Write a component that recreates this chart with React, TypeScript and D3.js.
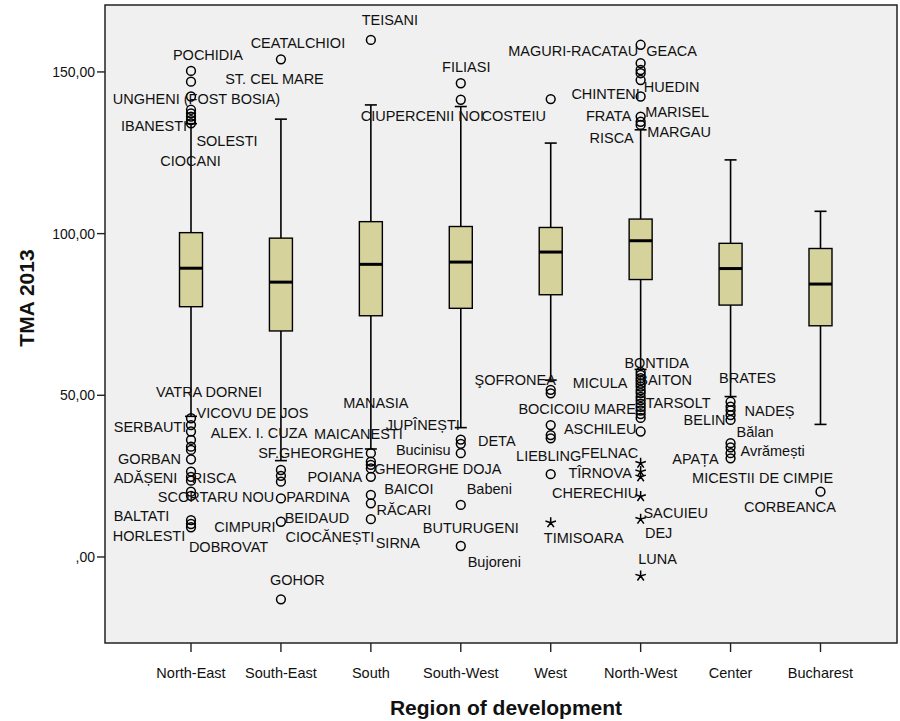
import React, { useEffect } from "react";
import * as d3 from "d3";

// boxplot summary per region (TMA 2013)
const regions = ["North-East", "South-East", "South", "South-West", "West", "North-West", "Center", "Bucharest"];
const q1 = [77.4, 69.9, 74.6, 76.9, 81.1, 85.8, 77.9, 71.5];
const median = [89.3, 85.0, 90.5, 91.2, 94.3, 97.8, 89.2, 84.4];
const q3 = [100.3, 98.6, 103.7, 102.2, 101.9, 104.5, 97.0, 95.4];
const whiskerLow = [43.5, 29.8, 33.4, 40.0, 54.7, 58.0, 49.6, 41.0];
const whiskerHigh = [134, 135.4, 139.8, 139.3, 128.0, 132.1, 122.8, 106.9];

// outliers (circles)
const outNE = [150.3, 147.0, 142.4, 138.3, 137.2, 136.2, 135.1, 134.1, 42.9, 40.8, 38.8, 36.2, 34.1, 33.1, 30.2, 26.4, 24.8, 23.6, 20.2, 18.9, 11.4, 10.2, 9.2];
const outSE = [153.9, 26.9, 25.1, 23.3, 18.1, 10.9, -13.1];
const outS = [159.9, 32.1, 29.5, 28.5, 27.4, 24.8, 19.2, 16.6, 11.7];
const outSW = [146.5, 141.4, 36.3, 35.0, 32.1, 16.1, 3.4];
const outW = [141.6, 51.7, 50.6, 40.8, 37.7, 36.7, 25.6];
const outNW = [158.4, 152.7, 150.6, 149.6, 147.5, 142.4, 136.2, 134.6, 133.6, 57.2, 56.3, 55.3, 54.5, 53.6, 52.7, 51.6, 50.7, 49.5, 48.5, 47.4, 46.4, 45.3, 44.2, 43.0, 38.8];
const outC = [48.0, 46.5, 45.3, 43.9, 42.4, 35.2, 33.9, 32.1, 30.5];
const outB = [20.2];
const outliers = [outNE, outSE, outS, outSW, outW, outNW, outC, outB];

// extremes (asterisks)
const extW = [10.6];
const extNW = [29.0, 26.4, 24.8, 18.7, 11.7, -5.9];
const extremes = [[], [], [], [], extW, extNW, [], []];

const yTicks = [0, 50, 100, 150];

// [name, region, value, dx of text centre from column centre]
const labels: [string, string, number, number][] = [
  ["POCHIDIA", "North-East", 155.3, 17],
  ["ST. CEL MARE", "North-East", 147.8, 83.5],
  ["UNGHENI (FOST BOSIA)", "North-East", 141.7, 5.5],
  ["IBANESTI", "North-East", 133.3, -37],
  ["SOLESTI", "North-East", 128.7, 36],
  ["CIOCANI", "North-East", 122.5, -0.5],
  ["VATRA DORNEI", "North-East", 51.1, 18],
  ["VICOVU DE JOS", "North-East", 44.5, 61.5],
  ["SERBAUTI", "North-East", 40.1, -41],
  ["ALEX. I. CUZA", "North-East", 38.3, 68],
  ["GORBAN", "North-East", 30.2, -41.5],
  ["ADĂȘENI", "North-East", 24.3, -45.5],
  ["RISCA", "North-East", 24.3, 23],
  ["SCORTARU NOU", "North-East", 18.7, 25],
  ["BALTATI", "North-East", 12.7, -49.5],
  ["HORLESTI", "North-East", 6.5, -42],
  ["DOBROVAT", "North-East", 3.2, 37.5],
  ["CEATALCHIOI", "South-East", 159.0, 17],
  ["MAICANESTI", "South-East", 38.0, 77.5],
  ["SF.GHEORGHE", "South-East", 32.2, 30],
  ["PARDINA", "South-East", 18.7, 37],
  ["BEIDAUD", "South-East", 12.2, 36],
  ["CIMPURI", "South-East", 9.4, -36],
  ["CIOCĂNEȘTI", "South-East", 6.3, 49],
  ["GOHOR", "South-East", -7.1, 16.5],
  ["TEISANI", "South", 166.1, 19],
  ["CIUPERCENII NOI", "South", 136.4, 51.5],
  ["MANASIA", "South", 47.7, 5],
  ["GHEORGHE DOJA", "South", 27.1, 67],
  ["POIANA", "South", 24.8, -36],
  ["BAICOI", "South", 20.9, 38],
  ["RĂCARI", "South", 14.5, 33],
  ["SIRNA", "South", 4.2, 27],
  ["FILIASI", "South-West", 151.6, 5.5],
  ["JUPÎNEȘTI", "South-West", 40.8, -38],
  ["DETA", "South-West", 35.9, 36],
  ["Bucinisu", "South-West", 33.1, -37.5],
  ["Babeni", "South-West", 21.0, 28.5],
  ["BUTURUGENI", "South-West", 9.0, 10],
  ["Bujoreni", "South-West", -1.5, 33.5],
  ["COSTEIU", "West", 136.4, -37],
  ["ŞOFRONEA", "West", 54.7, -35.5],
  ["BOCICOIU MARE", "West", 45.7, 26.5],
  ["ASCHILEU", "West", 39.5, 49.5],
  ["LIEBLING", "West", 31.2, -2],
  ["TIMISOARA", "West", 5.8, 33],
  ["MAGURI-RACATAU", "North-West", 156.6, -67.5],
  ["GEACA", "North-West", 156.6, 31],
  ["HUEDIN", "North-West", 145.3, 31],
  ["CHINTENI", "North-West", 143.2, -35],
  ["MARISEL", "North-West", 137.7, 36.5],
  ["FRATA", "North-West", 136.4, -32],
  ["MARGAU", "North-West", 131.5, 38.5],
  ["RISCA", "North-West", 129.5, -29],
  ["BONTIDA", "North-West", 60.1, 16],
  ["BAITON", "North-West", 54.8, 24.5],
  ["MICULA", "North-West", 53.9, -40.5],
  ["TARSOLT", "North-West", 47.5, 37.5],
  ["FELNAC", "North-West", 32.1, -31],
  ["TÎRNOVA", "North-West", 25.9, -40.5],
  ["CHERECHIU", "North-West", 19.9, -45.5],
  ["SACUIEU", "North-West", 13.7, 35],
  ["DEJ", "North-West", 7.3, 18],
  ["LUNA", "North-West", -0.7, 17],
  ["BRATES", "Center", 55.3, 17],
  ["NADEȘ", "Center", 45.3, 39],
  ["BELIN", "Center", 42.4, -26],
  ["Bălan", "Center", 38.8, 24.5],
  ["Avrămești", "Center", 32.8, 42],
  ["APAȚA", "Center", 30.3, -35],
  ["MICESTII DE CIMPIE", "Center", 24.4, 32],
  ["CORBEANCA", "Bucharest", 15.6, -30.5],
];

const W = 900;
const H = 721;
const plot = { left: 105, top: 5, right: 897, bottom: 643 };
const font = "'Liberation Sans', Arial, sans-serif";

function asterisk(cx: number, cy: number, r: number) {
  let p = "";
  for (let k = 0; k < 5; k++) {
    const a = -Math.PI / 2 + (k * 2 * Math.PI) / 5;
    p += `M${cx},${cy}L${cx + r * Math.cos(a)},${cy + r * Math.sin(a)}`;
  }
  return p;
}

export default function App() {
  useEffect(() => {
    document.body.style.margin = "0";
  }, []);

  const x = d3.scalePoint<string>().domain(regions).range([191, 820.5]);
  const y = d3.scaleLinear().domain([-26.6, 170.7]).range([plot.bottom, plot.top]);
  const fmt = (v: number) => (v === 0 ? ",00" : d3.format(".2f")(v).replace(".", ","));
  const boxW = 23;
  const capW = 12;

  return (
    <svg width={W} height={H} style={{ display: "block", background: "#fff" }}>
      <rect x={plot.left} y={plot.top} width={plot.right - plot.left} height={plot.bottom - plot.top} fill="#f0f0f0" />

      {regions.map((r, i) => {
        const cx = x(r) as number;
        return (
          <g key={r}>
            <line x1={cx} x2={cx} y1={y(whiskerHigh[i])} y2={y(q3[i])} stroke="#000" strokeWidth={1.6} />
            <line x1={cx} x2={cx} y1={y(q1[i])} y2={y(whiskerLow[i])} stroke="#000" strokeWidth={1.6} />
            <line x1={cx - capW / 2} x2={cx + capW / 2} y1={y(whiskerHigh[i])} y2={y(whiskerHigh[i])} stroke="#000" strokeWidth={1.6} />
            <line x1={cx - capW / 2} x2={cx + capW / 2} y1={y(whiskerLow[i])} y2={y(whiskerLow[i])} stroke="#000" strokeWidth={1.6} />
            <rect x={cx - boxW / 2} y={y(q3[i])} width={boxW} height={y(q1[i]) - y(q3[i])} fill="#d6d29b" stroke="#000" strokeWidth={1.4} />
            <line x1={cx - boxW / 2} x2={cx + boxW / 2} y1={y(median[i])} y2={y(median[i])} stroke="#000" strokeWidth={3} />
            {outliers[i].map((v, j) => (
              <circle key={j} cx={cx} cy={y(v)} r={4.4} fill="none" stroke="#000" strokeWidth={1.5} />
            ))}
            {extremes[i].map((v, j) => (
              <path key={"e" + j} d={asterisk(cx, y(v), 5.5)} stroke="#000" strokeWidth={1.5} fill="none" />
            ))}
          </g>
        );
      })}

      {labels.map(([t, r, v, dx], i) => (
        <text key={i} x={(x(r) as number) + dx} y={y(v)} dy="0.35em" textAnchor="middle" fontFamily={font} fontSize={14.5} fill="#111">
          {t}
        </text>
      ))}

      <rect x={plot.left} y={plot.top} width={plot.right - plot.left} height={plot.bottom - plot.top} fill="none" stroke="#222" strokeWidth={1.5} />

      {yTicks.map((t) => (
        <g key={t}>
          <line x1={plot.left - 8} x2={plot.left} y1={y(t)} y2={y(t)} stroke="#222" strokeWidth={1.4} />
          <text x={plot.left - 10} y={y(t)} dy="0.35em" textAnchor="end" fontFamily={font} fontSize={14} fill="#111">
            {fmt(t)}
          </text>
        </g>
      ))}

      {regions.map((r) => (
        <g key={r}>
          <line x1={x(r)} x2={x(r)} y1={plot.bottom} y2={plot.bottom + 9} stroke="#222" strokeWidth={1.4} />
          <text x={x(r)} y={673} dy="0.35em" textAnchor="middle" fontFamily={font} fontSize={14.5} fill="#111">
            {r}
          </text>
        </g>
      ))}

      <text x={506} y={708} dy="0.35em" textAnchor="middle" fontFamily={font} fontSize={21} fontWeight="bold" fill="#111">
        Region of development
      </text>
      <text transform="translate(27,298) rotate(-90)" dy="0.35em" textAnchor="middle" fontFamily={font} fontSize={21} fontWeight="bold" fill="#111">
        TMA 2013
      </text>
    </svg>
  );
}
